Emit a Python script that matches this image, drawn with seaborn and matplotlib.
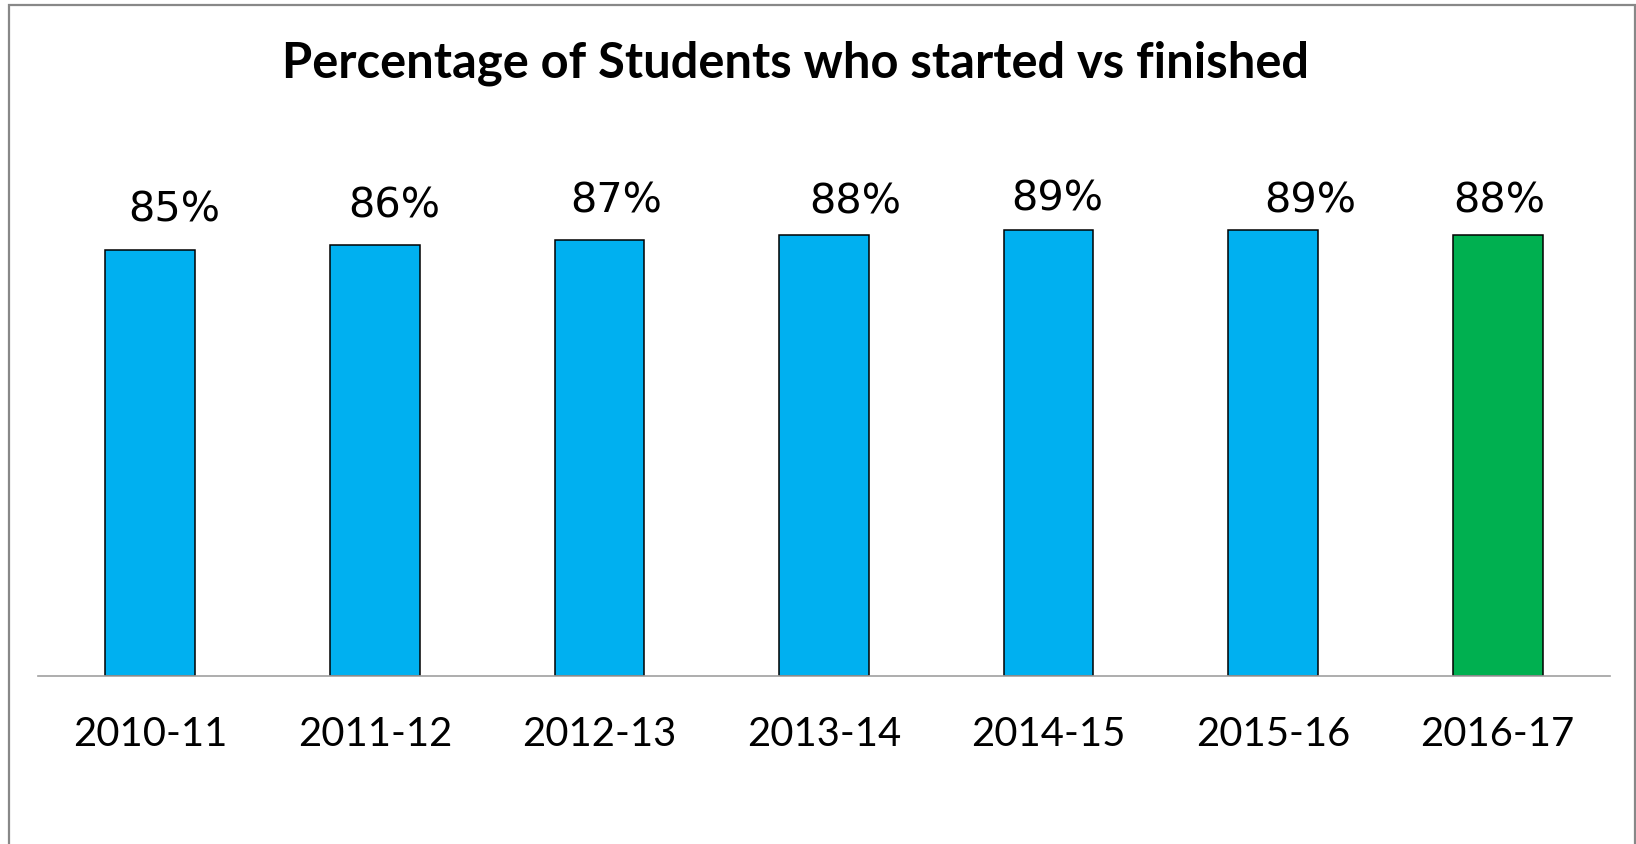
import matplotlib
matplotlib.use("Agg")
import matplotlib.pyplot as plt
import seaborn as sns
import pandas as pd
from matplotlib.patches import Rectangle

# ---- data ----
years = ["2010-11", "2011-12", "2012-13", "2013-14", "2014-15", "2015-16", "2016-17"]
percent = [85, 86, 87, 88, 89, 89, 88]
label_text = ["85%", "86%", "87%", "88%", "89%", "89%", "88%"]
title = "Percentage of Students who started vs finished"

# ---- styles ----
bar_colors = ["#00B0F0"] * 6 + ["#00B050"]
# data label offsets (pixels) relative to the top-centre of each bar
label_dx = [24, 19, 17, 31, 9, 37, 2]
label_dy = [28, 27, 27, 21, 19, 17, 22]

sns.set_style("white")
plt.rcParams["font.family"] = ["Lato", "DejaVu Sans"]

DPI = 100
fig = plt.figure(figsize=(16.36, 8.44), dpi=DPI)
W, H = 1636, 844

ax = fig.add_axes([38 / W, 1 - 676 / H, 1572 / W, 501.2 / H])

df = pd.DataFrame({"year": years, "pct": percent})
sns.barplot(data=df, x="year", y="pct", hue="year", palette=bar_colors,
            width=0.4, edgecolor="black", linewidth=1.1, legend=False,
            saturation=1, ax=ax, zorder=3)

ax.set_xlim(-0.5, len(years) - 0.5)
ax.set_ylim(0, 100)
ax.set_xlabel("")
ax.set_ylabel("")
ax.set_yticks([])
for s in ["top", "right", "left"]:
    ax.spines[s].set_visible(False)
ax.spines["bottom"].set_color("#a0a0a0")
ax.spines["bottom"].set_linewidth(1.2)
ax.spines["bottom"].set_zorder(4)
ax.tick_params(axis="x", length=0, pad=29, labelsize=28.8, labelcolor="black")
ax.set_facecolor("none")

for i, (v, t) in enumerate(zip(percent, label_text)):
    ax.annotate(t, xy=(i, v), xytext=(label_dx[i], label_dy[i]),
                textcoords="offset pixels", ha="center", va="baseline",
                fontsize=29.8, family="DejaVu Sans", color="black",
                annotation_clip=False)

fig.text(795 / W, 1 - 77 / H, title, ha="center", va="baseline",
         fontsize=35.2, fontweight="bold", color="black")

fig.patches.append(Rectangle((8.5 / W, -0.02), (1634.5 - 8.5) / W, 1.02 - 5 / H,
                             transform=fig.transFigure, fill=False,
                             edgecolor="#888888", linewidth=1.6))

fig.savefig("out.png", dpi=DPI, facecolor="white")
